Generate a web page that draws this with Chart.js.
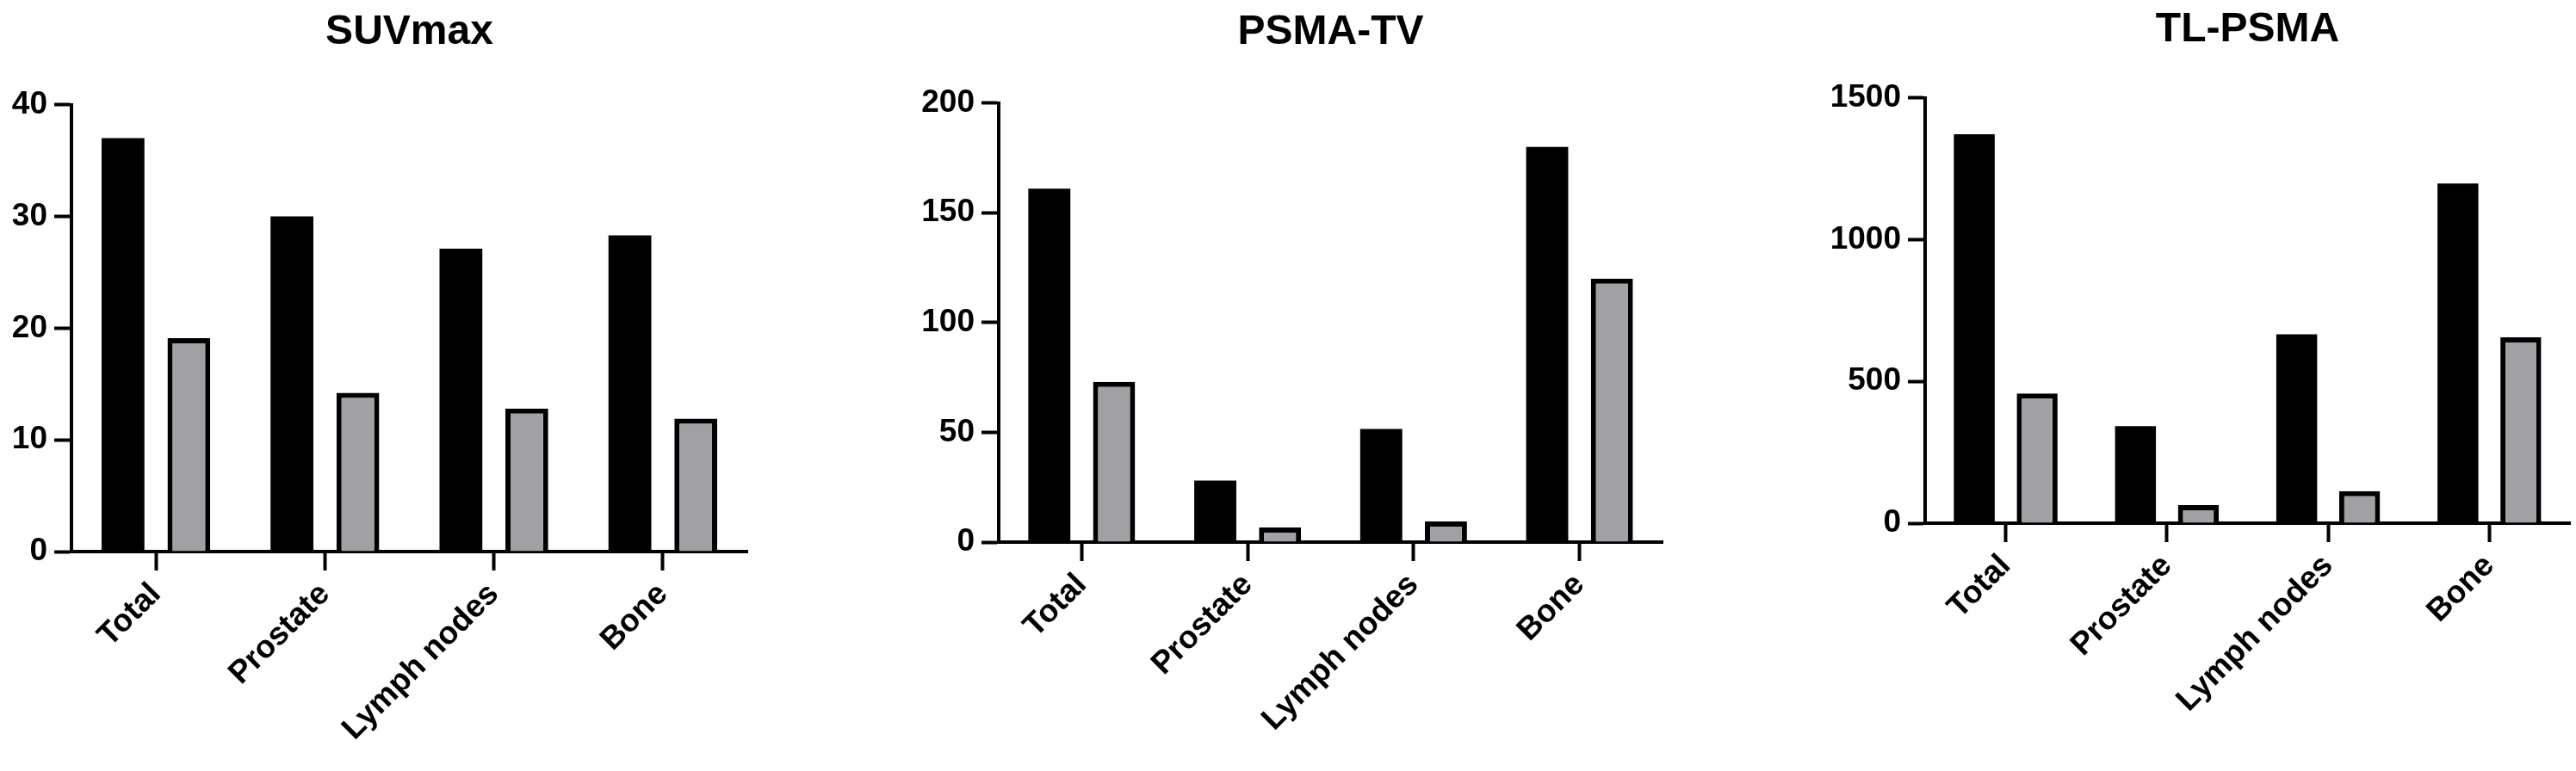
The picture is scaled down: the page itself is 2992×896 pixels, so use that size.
<!DOCTYPE html>
<html>
<head>
<meta charset="utf-8">
<script src="https://cdn.jsdelivr.net/npm/chart.js@4"></script>
<style>
  body { margin: 0; background: #fff; }
  canvas { position: absolute; top: 0; }
</style>
</head>
<body>
<canvas id="chartSuv" width="1000" height="896" style="left:0px"></canvas>
<canvas id="chartTv" width="1000" height="896" style="left:1000px"></canvas>
<canvas id="chartTl" width="992" height="896" style="left:2000px"></canvas>
<script>
const regions = ['Total', 'Prostate', 'Lymph nodes', 'Bone'];

const suvDark = [37, 30, 27.1, 28.3];
const suvGrey = [19.1, 14.2, 12.8, 11.9];

const tvDark = [161, 28, 51.5, 180];
const tvGrey = [73, 6.7, 9.4, 120];

const tlDark = [1371, 342, 666, 1198];
const tlGrey = [457, 64, 113, 655];

Chart.defaults.font.family = '"Liberation Sans", Arial, sans-serif';
Chart.defaults.font.weight = 'bold';
Chart.defaults.color = '#000';

function makeChart(id, title, dark, grey, yMax, yStep, box) {
    return new Chart(document.getElementById(id), {
        type: 'bar',
        data: {
            labels: regions,
            datasets: [{
                data: dark,
                backgroundColor: '#000',
                borderWidth: 0,
                categoryPercentage: 0.78,
                barPercentage: 0.65
            }, {
                data: grey,
                backgroundColor: '#a1a1a5',
                borderColor: '#000',
                borderWidth: 6,
                categoryPercentage: 0.78,
                barPercentage: 0.65
            }]
        },
        options: {
            responsive: false,
            animation: false,
            layout: { padding: { left: 0, right: box.right, top: 0, bottom: 0 } },
            plugins: {
                legend: { display: false },
                tooltip: { enabled: false },
                title: {
                    display: true,
                    text: title,
                    fullSize: false,
                    font: { size: 48, weight: 'bold' },
                    padding: { top: box.titleTop, bottom: box.titleBottom }
                }
            },
            scales: {
                x: {
                    grid: { offset: false, drawOnChartArea: false, drawTicks: true, tickLength: 22, tickWidth: 4, tickColor: '#000' },
                    border: { display: true, width: 4, color: '#000' },
                    ticks: { font: { size: 37, weight: 'bold' }, maxRotation: 45, minRotation: 45, padding: 6 },
                    afterFit: (scale) => { scale.height = box.xHeight; }
                },
                y: {
                    min: 0,
                    max: yMax,
                    grid: { drawOnChartArea: false, drawTicks: true, tickLength: 20, tickWidth: 4, tickColor: '#000' },
                    border: { display: true, width: 4, color: '#000' },
                    ticks: {
                        stepSize: yStep,
                        font: { size: 37, weight: 'bold' },
                        padding: 8,
                        callback: (value) => String(value)
                    },
                    afterFit: (scale) => { scale.width = box.yWidth; }
                }
            }
        }
    });
}

makeChart('chartSuv', 'SUVmax', suvDark, suvGrey, 40, 10,
    { right: 132, yWidth: 83, xHeight: 255, titleTop: 9, titleBottom: 55 });
makeChart('chartTv', 'PSMA-TV', tvDark, tvGrey, 200, 50,
    { right: 69, yWidth: 160, xHeight: 266, titleTop: 9, titleBottom: 53 });
makeChart('chartTl', 'TL-PSMA', tlDark, tlGrey, 1500, 500,
    { right: 7, yWidth: 236, xHeight: 288, titleTop: 6, titleBottom: 50 });
</script>
</body>
</html>
